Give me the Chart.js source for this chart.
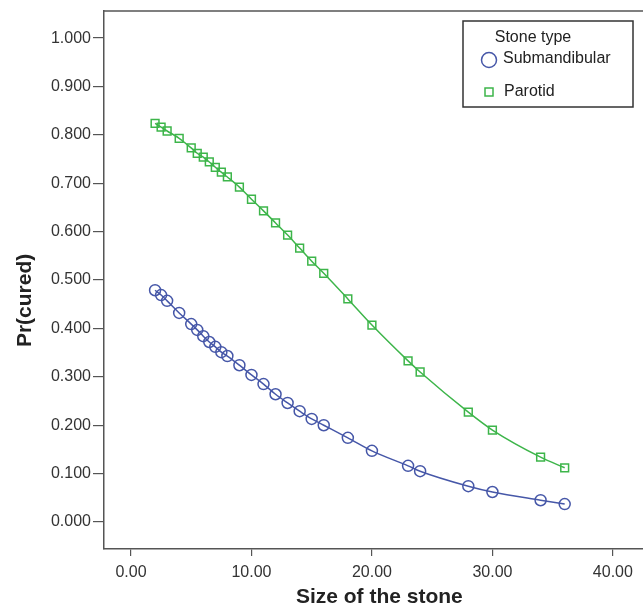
<!DOCTYPE html>
<html>
<head>
<meta charset="utf-8">
<script src="https://cdn.jsdelivr.net/npm/chart.js@4"></script>
<style>
  html, body { margin: 0; padding: 0; background: #fff; overflow: hidden; }
  canvas { display: block; }
</style>
</head>
<body>
<canvas id="stoneChart" width="643" height="607"></canvas>
<script>
// stone size (x) and predicted Pr(cured)
const stoneSize = [2, 2.5, 3, 4, 5, 5.5, 6, 6.5, 7, 7.5, 8, 9, 10, 11, 12, 13, 14, 15, 16, 18, 20, 23, 24, 28, 30, 34, 36];
const submandibular = [0.479, 0.469, 0.457, 0.432, 0.409, 0.397, 0.384, 0.372, 0.362, 0.351, 0.343, 0.324, 0.304, 0.285, 0.264, 0.246, 0.229, 0.213, 0.200, 0.174, 0.147, 0.116, 0.105, 0.074, 0.062, 0.045, 0.037];
const parotid = [0.824, 0.816, 0.808, 0.793, 0.773, 0.762, 0.754, 0.744, 0.733, 0.723, 0.713, 0.692, 0.667, 0.643, 0.618, 0.593, 0.566, 0.539, 0.514, 0.461, 0.407, 0.333, 0.310, 0.227, 0.190, 0.134, 0.112];
const xTicks = [0, 10, 20, 30, 40];
const yTicks = [0, 0.1, 0.2, 0.3, 0.4, 0.5, 0.6, 0.7, 0.8, 0.9, 1.0];

const BLUE = '#4657a8';
const GREEN = '#3db54a';
const FONT = '"Liberation Sans", Arial, sans-serif';

const toPoints = ys => stoneSize.map((x, i) => ({ x: x, y: ys[i] }));

// top frame line + legend box drawn inside the plot
const framePlugin = {
  id: 'frameAndLegend',
  afterDraw(chart) {
    const ctx = chart.ctx;
    const a = chart.chartArea;
    ctx.save();
    ctx.strokeStyle = '#555';
    ctx.lineWidth = 1.5;
    ctx.beginPath();
    ctx.moveTo(a.left, a.top);
    ctx.lineTo(a.right, a.top);
    ctx.stroke();

    // legend
    ctx.strokeStyle = '#333';
    ctx.lineWidth = 1.5;
    ctx.strokeRect(463, 21, 170, 86);
    ctx.fillStyle = '#222';
    ctx.font = '16px ' + FONT;
    ctx.textBaseline = 'middle';
    ctx.textAlign = 'center';
    ctx.fillText('Stone type', 533, 38);
    ctx.textAlign = 'left';
    ctx.fillText('Submandibular', 503, 59);
    ctx.fillText('Parotid', 504, 92);
    ctx.lineWidth = 1.5;
    ctx.strokeStyle = BLUE;
    ctx.beginPath();
    ctx.arc(489, 60, 7.5, 0, Math.PI * 2);
    ctx.stroke();
    ctx.strokeStyle = GREEN;
    ctx.strokeRect(485, 88, 8, 8);
    ctx.restore();
  }
};

new Chart(document.getElementById('stoneChart'), {
  type: 'line',
  data: {
    datasets: [
      {
        label: 'Submandibular',
        data: toPoints(submandibular),
        borderColor: BLUE,
        backgroundColor: 'transparent',
        borderWidth: 1.5,
        pointStyle: 'circle',
        pointRadius: 5.5,
        pointBorderWidth: 1.5,
        pointBorderColor: BLUE,
        pointBackgroundColor: 'transparent',
        cubicInterpolationMode: 'monotone'
      },
      {
        label: 'Parotid',
        data: toPoints(parotid),
        borderColor: GREEN,
        backgroundColor: 'transparent',
        borderWidth: 1.5,
        pointStyle: 'rect',
        pointRadius: 5.5,
        pointBorderWidth: 1.5,
        pointBorderColor: GREEN,
        pointBackgroundColor: 'transparent',
        cubicInterpolationMode: 'monotone'
      }
    ]
  },
  options: {
    responsive: false,
    animation: false,
    layout: { autoPadding: false, padding: { top: 11, left: 0, right: 0, bottom: 0 } },
    plugins: {
      legend: { display: false },
      tooltip: { enabled: false }
    },
    scales: {
      x: {
        type: 'linear',
        min: -2.24,
        max: 42.5,
        afterFit: s => { s.height = 58; s.paddingLeft = 0; s.paddingRight = 0; },
        afterBuildTicks: s => { s.ticks = xTicks.map(v => ({ value: v })); },
        border: { display: true, color: '#555', width: 1.5 },
        grid: { drawOnChartArea: false, drawTicks: true, tickLength: 7, color: '#555', lineWidth: 1.2 },
        ticks: {
          padding: 7,
          color: '#333',
          font: { family: FONT, size: 16 },
          callback: v => v.toFixed(2)
        },
        title: {
          display: true,
          text: '  Size of the stone',
          color: '#222',
          font: { family: FONT, size: 21, weight: 'bold' },
          padding: { top: 0, bottom: -3 }
        }
      },
      y: {
        type: 'linear',
        min: -0.0558,
        max: 1.056,
        afterFit: s => { s.width = 104; s.paddingTop = 0; s.paddingBottom = 0; },
        afterBuildTicks: s => { s.ticks = yTicks.map(v => ({ value: v })); },
        border: { display: true, color: '#555', width: 1.5 },
        grid: { drawOnChartArea: false, drawTicks: true, tickLength: 11, color: '#555', lineWidth: 1.2 },
        ticks: {
          padding: 2,
          color: '#333',
          font: { family: FONT, size: 16 },
          callback: v => v.toFixed(3)
        },
        title: {
          display: true,
          text: 'Pr(cured)       ',
          color: '#222',
          font: { family: FONT, size: 21, weight: 'bold' },
          padding: { top: 13, bottom: 0 }
        }
      }
    }
  },
  plugins: [framePlugin]
});
</script>
</body>
</html>
